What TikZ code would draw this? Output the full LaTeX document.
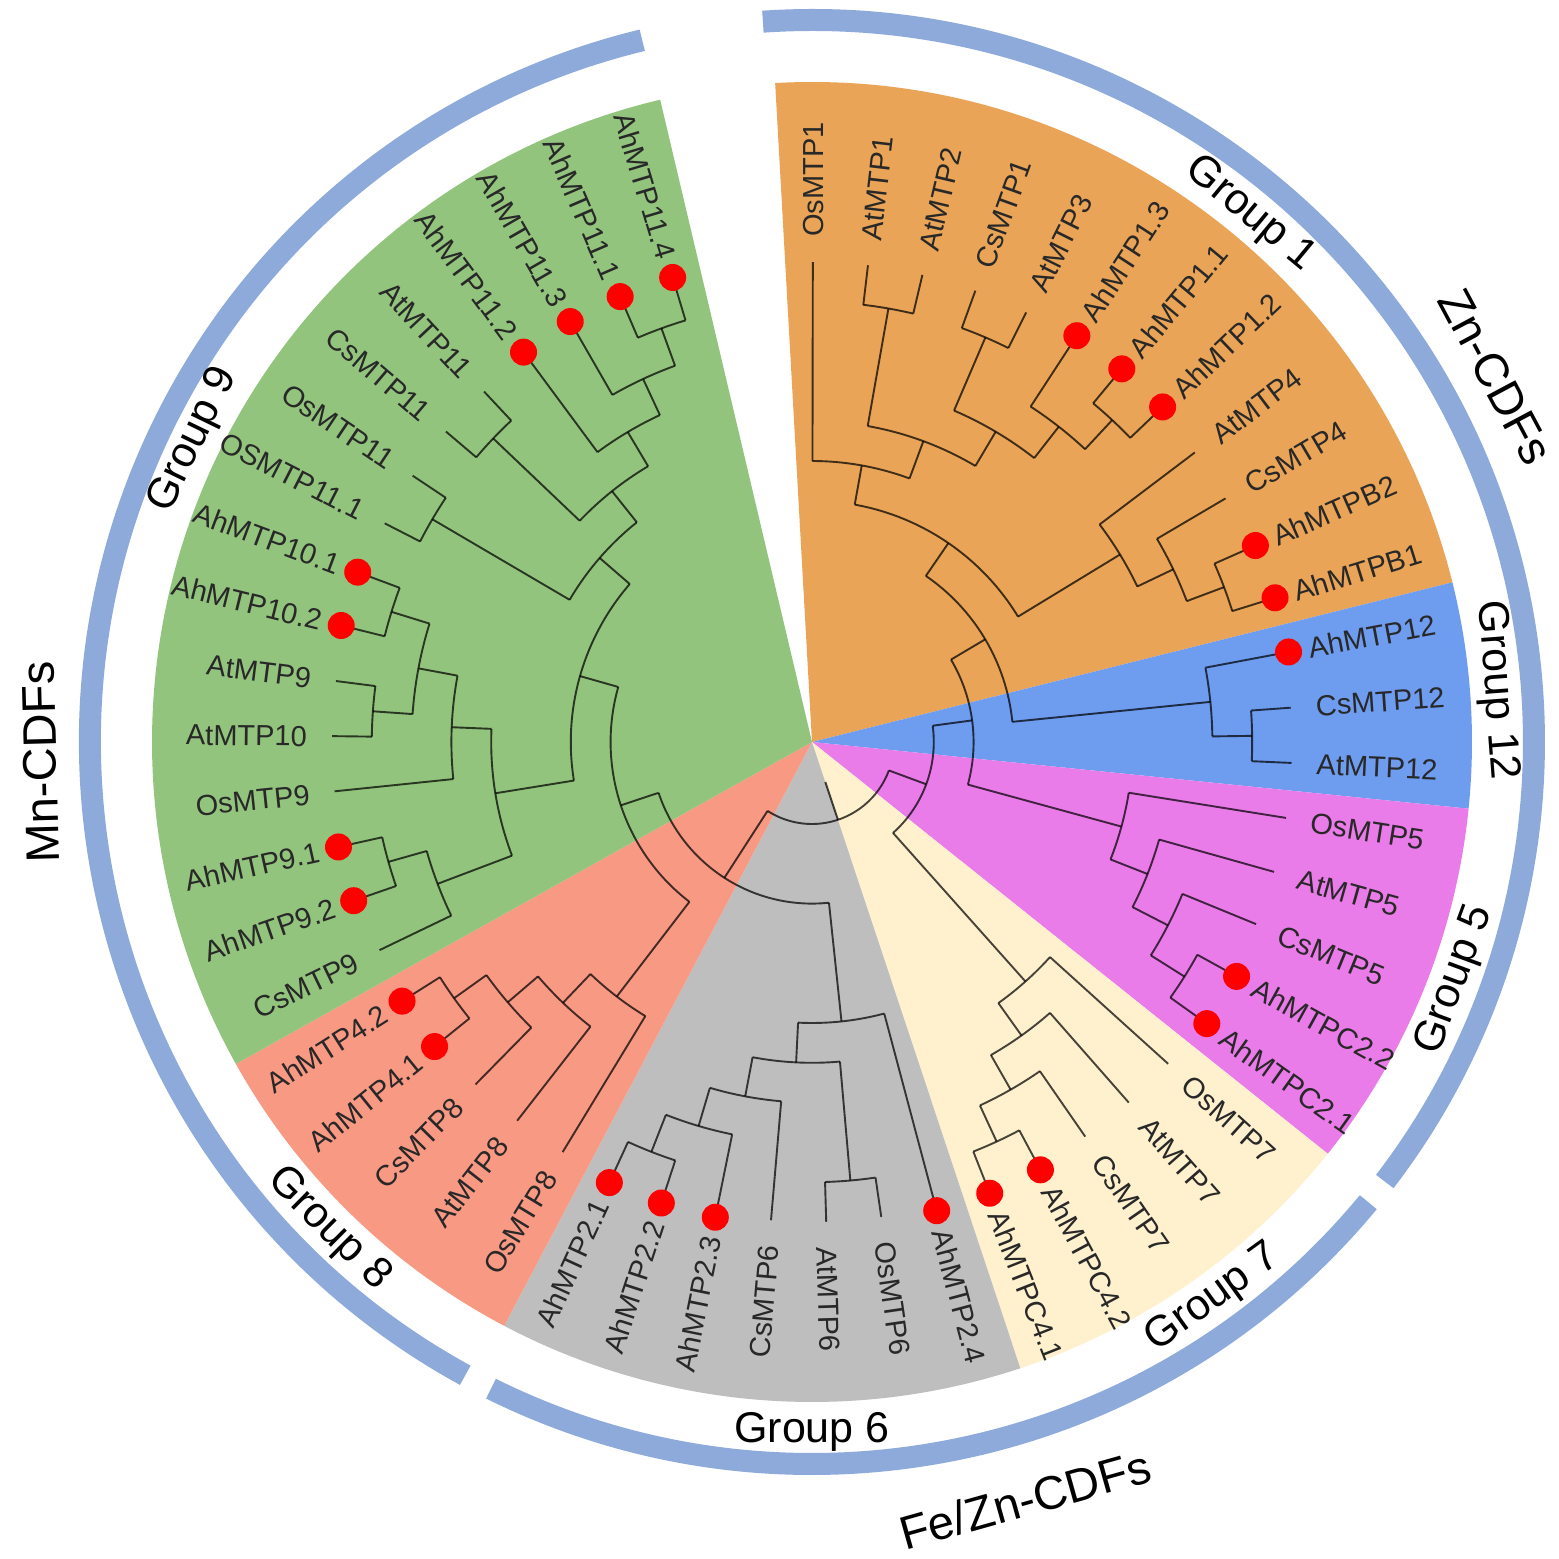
\documentclass[tikz,border=0pt]{standalone}
\usepackage{fontspec}
\setmainfont{Liberation Sans}
\definecolor{orangeG}{RGB}{233,164,88}
\definecolor{greenG}{RGB}{147,196,125}
\definecolor{blueG}{RGB}{110,157,240}
\definecolor{magG}{RGB}{234,124,233}
\definecolor{creamG}{RGB}{255,241,206}
\definecolor{grayG}{RGB}{190,190,190}
\definecolor{salmonG}{RGB}{248,153,132}
\definecolor{ringc}{RGB}{142,170,219}
\definecolor{dotred}{RGB}{255,0,0}
\definecolor{labc}{RGB}{40,40,40}
\begin{document}
\begin{tikzpicture}[x=1pt,y=1pt,
  br/.style={draw=black, opacity=0.72, line width=1.9pt},
  lab/.style={font=\fontsize{29}{31}\selectfont, text=labc, inner sep=0pt, text height=21pt, text depth=0pt},
  grp/.style={font=\fontsize{43}{46}\selectfont, inner sep=0pt},
  cdf/.style={font=\fontsize{47}{50}\selectfont, inner sep=0pt},
  dotn/.style={circle, fill=dotred, minimum size=27pt, inner sep=0pt},
  ringarc/.style={draw=ringc, line width=22pt}]
\useasboundingbox (-812,-817) rectangle (747,742);
\fill[white] (-812,-817) rectangle (747,742);
% sectors
\fill[orangeG] (0,0) -- (93.2:660pt) arc[start angle=93.2, end angle=14.0, radius=660pt] -- cycle;
\fill[blueG] (0,0) -- (14.0:660pt) arc[start angle=14.0, end angle=-5.8, radius=660pt] -- cycle;
\fill[magG] (0,0) -- (-5.8:660pt) arc[start angle=-5.8, end angle=-38.6, radius=660pt] -- cycle;
\fill[creamG] (0,0) -- (-38.6:660pt) arc[start angle=-38.6, end angle=-71.6, radius=660pt] -- cycle;
\fill[grayG] (0,0) -- (-71.6:660pt) arc[start angle=-71.6, end angle=-117.8, radius=660pt] -- cycle;
\fill[salmonG] (0,0) -- (-117.8:660pt) arc[start angle=-117.8, end angle=-150.8, radius=660pt] -- cycle;
\fill[greenG] (0,0) -- (-150.8:660pt) arc[start angle=-150.8, end angle=-256.7, radius=660pt] -- cycle;
% outer ring
\draw[ringarc] (93.9:722pt) arc[start angle=93.9, end angle=-37.5, radius=722pt];
\draw[ringarc] (-39.6:722pt) arc[start angle=-39.6, end angle=-116.4, radius=722pt];
\draw[ringarc] (-118.7:722pt) arc[start angle=-118.7, end angle=-256.4, radius=722pt];
% internal nodes: first child angle / last child angle / level / parent level
\foreach \aa/\bb/\lv/\pl in {
83.3/76.7/1/4, 70.1/63.5/1/3, 50.3/43.7/1/2, 56.9/47.0/2/3, 66.8/51.95/3/4,
80.0/59.375/4/5, 89.9/69.6875/5/6, 23.9/17.3/1/2, 30.5/20.6/2/3, 37.1/25.55/3/6,
79.794/31.325/6/7, 4.1/-2.5/1/2, 10.7/0.8/2/7, 55.559/5.75/7/8,
-28.9/-35.5/1/2, -22.3/-32.2/2/3, -15.7/-27.25/3/4, -9.1/-21.475/4/8,
30.654/-15.288/8/9, -61.9/-68.5/1/2, -55.3/-65.2/2/3, -48.7/-60.25/3/4,
-42.1/-54.475/4/9, 7.683/-48.288/9/10,
-108.1/-114.7/1/2, -101.5/-111.4/2/3, -94.9/-106.45/3/4, -81.7/-88.3/1/4,
-85.0/-100.675/4/5, -75.1/-92.838/5/8,
-141.1/-147.7/1/2, -134.5/-144.4/2/3, -127.9/-139.45/3/4, -121.3/-133.675/4/7,
-160.9/-167.5/1/2, -154.3/-164.2/2/4, -180.7/-187.3/1/2, -193.9/-200.5/1/2,
-184.0/-197.2/2/3, -174.1/-190.6/3/4, -159.25/-182.35/4/6,
-207.1/-213.7/1/5, -220.3/-226.9/1/4, -246.7/-253.3/1/2, -240.1/-250.0/2/3,
-233.5/-245.05/3/4, -223.6/-239.275/4/5, -210.4/-231.438/5/6,
-170.8/-220.919/6/7, -127.488/-195.859/7/8, -83.969/-161.673/8/10,
-20.302/-122.821/10/11}{
  \pgfmathsetmacro\rr{480-39.8*\lv}
  \pgfmathsetmacro\rp{480-39.8*\pl}
  \pgfmathsetmacro\mm{(\aa+\bb)/2}
  \draw[br] (\aa:\rr pt) arc[start angle=\aa, end angle=\bb, radius=\rr pt];
  \draw[br] (\mm:\rp pt) -- (\mm:\rr pt);
}
% leaves: index / name / red dot / parent level
\foreach \k/\nm/\dt/\pl in {
1/OsMTP1/0/5, 2/AtMTP1/0/1, 3/AtMTP2/0/1, 4/CsMTP1/0/1, 5/AtMTP3/0/1,
6/AhMTP1.3/1/2, 7/AhMTP1.1/1/1, 8/AhMTP1.2/1/1, 9/AtMTP4/0/3, 10/CsMTP4/0/2,
11/AhMTPB2/1/1, 12/AhMTPB1/1/1, 13/AhMTP12/1/2, 14/CsMTP12/0/1, 15/AtMTP12/0/1,
16/OsMTP5/0/4, 17/AtMTP5/0/3, 18/CsMTP5/0/2, 19/AhMTPC2.2/1/1, 20/AhMTPC2.1/1/1,
21/OsMTP7/0/4, 22/AtMTP7/0/3, 23/CsMTP7/0/2, 24/AhMTPC4.2/1/1, 25/AhMTPC4.1/1/1,
26/AhMTP2.4/1/5, 27/OsMTP6/0/1, 28/AtMTP6/0/1, 29/CsMTP6/0/3, 30/AhMTP2.3/1/2,
31/AhMTP2.2/1/1, 32/AhMTP2.1/1/1, 33/OsMTP8/0/4, 34/AtMTP8/0/3, 35/CsMTP8/0/2,
36/AhMTP4.1/1/1, 37/AhMTP4.2/1/1, 38/CsMTP9/0/2, 39/AhMTP9.2/1/1, 40/AhMTP9.1/1/1,
41/OsMTP9/0/3, 42/AtMTP10/0/1, 43/AtMTP9/0/1, 44/AhMTP10.2/1/1, 45/AhMTP10.1/1/1,
46/OSMTP11.1/0/1, 47/OsMTP11/0/1, 48/CsMTP11/0/1, 49/AtMTP11/0/1,
50/AhMTP11.2/1/3, 51/AhMTP11.3/1/2, 52/AhMTP11.1/1/1, 53/AhMTP11.4/1/1}{
  \pgfmathsetmacro\ang{89.9-6.6*(\k-1)}
  \pgfmathsetmacro\rp{480-39.8*\pl}
  \pgfmathsetmacro\rot{\ang+180}
  \draw[br] (\ang:\rp pt) -- (\ang:480pt);
  \ifdim \ang pt>-90pt
    \node[lab, anchor=west, rotate=\ang] (l\k) at (\ang:505pt) {\nm};
  \else
    \node[lab, anchor=east, rotate=\rot] (l\k) at (\ang:505pt) {\nm};
  \fi
  \ifnum\dt=1 \node[dotn] (d\k) at (\ang:485pt) {}; \fi
}
% group labels
\node[grp, rotate=-39.7] (g1) at (50.3:686pt) {Group 1};
\node[grp, rotate=-85.7] (g12) at (4.3:686pt) {Group 12};
\node[grp, rotate=69.7] (g5) at (-20.3:686pt) {Group 5};
\node[grp, rotate=35.8] (g7) at (-54.2:686pt) {Group 7};
\node[grp] (g6) at (-90:690pt) {Group 6};
\node[grp, rotate=-44.8] (g8) at (-134.8:686pt) {Group 8};
\node[grp, rotate=64] (g9) at (154:688pt) {Group 9};
% family labels
\node[cdf, rotate=-61.9] (zn) at (28.1:775pt) {Zn-CDFs};
\node[cdf, rotate=91.5] (mn) at (181.5:772pt) {Mn-CDFs};
\node[cdf, rotate=15.7] (fe) at (-74.3:787pt) {Fe/Zn-CDFs};
\end{tikzpicture}
\end{document}
